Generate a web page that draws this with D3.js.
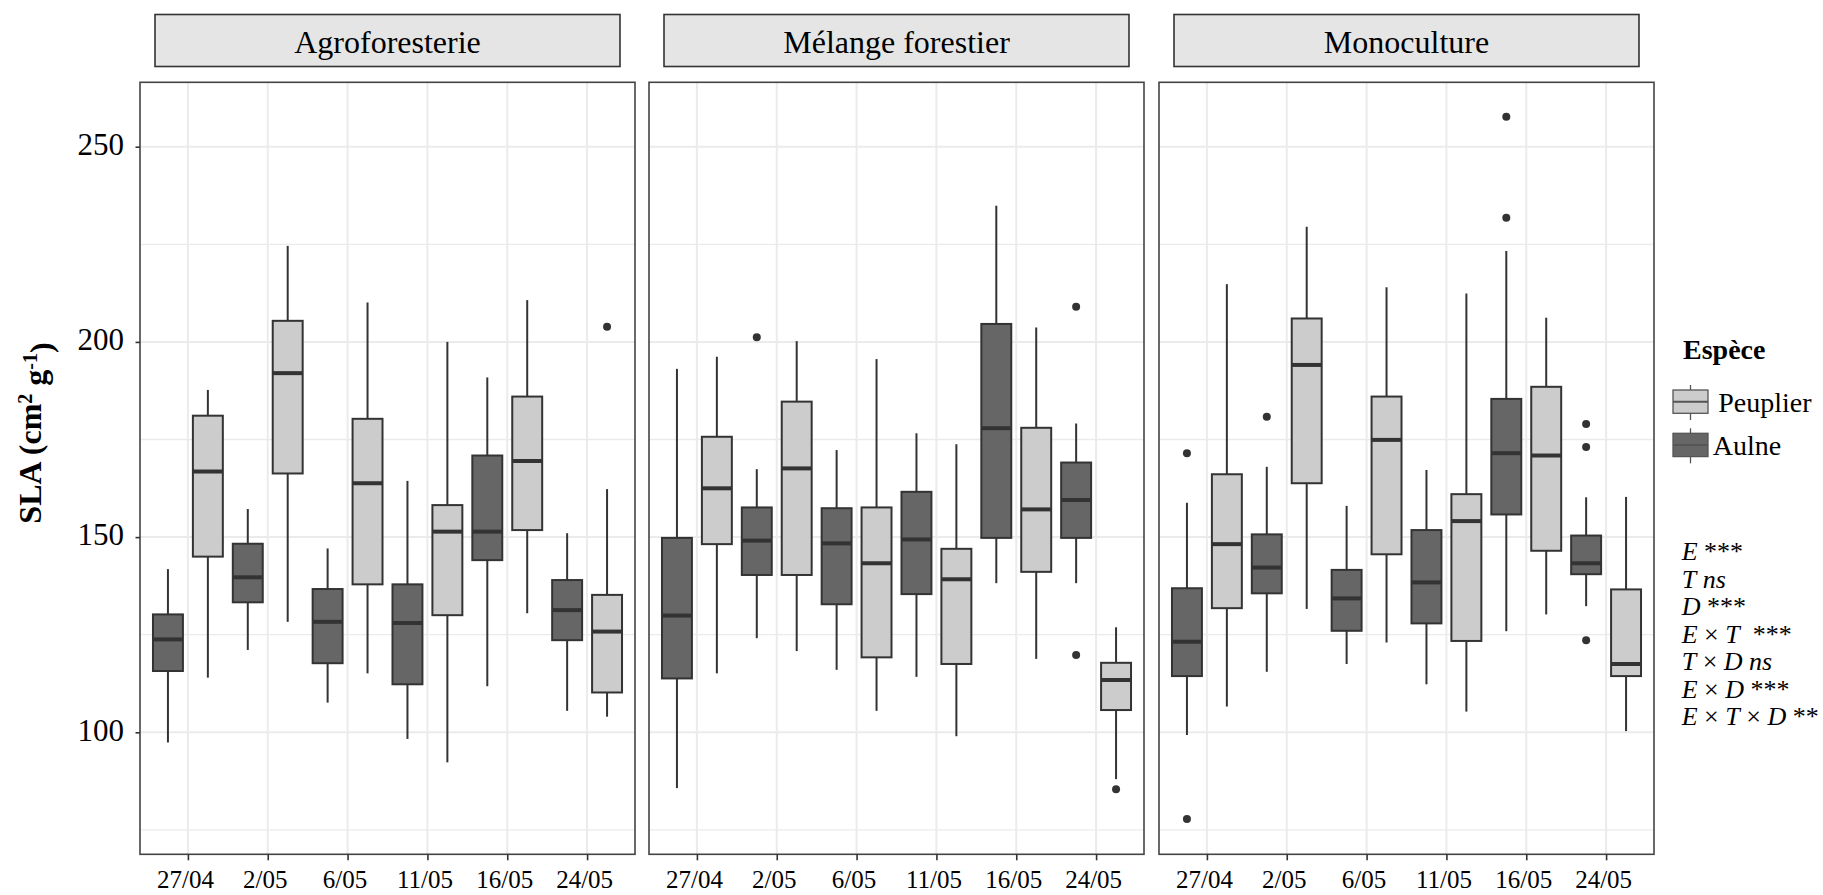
<!DOCTYPE html>
<html>
<head>
<meta charset="utf-8">
<script src="https://cdn.jsdelivr.net/npm/d3@7"></script>
<style>
  body { margin: 0; background: #fff; }
  svg { display: block; }
  text { font-family: "Liberation Serif", "Times New Roman", Times, serif; }
</style>
</head>
<body>
<svg id="chart" width="1823" height="895"></svg>
<script>
// ---------------- DATA ----------------
const panels = ["Agroforesterie", "Mélange forestier", "Monoculture"];
const dates = ["27/04", "2/05", "6/05", "11/05", "16/05", "24/05"];
const legendSpecies = ["Peuplier", "Aulne"];      // legend order
const dodgeSpecies = ["Aulne", "Peuplier"];       // left / right within each date
const yMajorTicks = [100, 150, 200, 250];
const yMinorTicks = [75, 125, 175, 225];
const yTitle = "SLA";
const legendTitle = "Espèce";
const statLines = ["E ***", "T ns", "D ***", "E × T  ***", "T × D ns", "E × D ***", "E × T × D **"];

// five-number summaries per date: [lower whisker, Q1, median, Q3, upper whisker]
const agroAulne = [
  [97.4, 115.7, 123.8, 130.2, 141.8],
  [121.1, 133.3, 139.7, 148.3, 157.2],
  [107.6, 117.7, 128.3, 136.7, 147.1],
  [98.3, 112.3, 128.0, 137.9, 164.4],
  [111.8, 144.1, 151.4, 170.9, 190.9],
  [105.5, 123.6, 131.3, 139.0, 151.0]
];
const agroPeuplier = [
  [114.0, 145.0, 166.8, 181.1, 187.7],
  [128.3, 166.3, 192.0, 205.4, 224.6],
  [115.1, 137.9, 163.8, 180.3, 210.1],
  [92.3, 130.0, 151.4, 158.2, 200.0],
  [130.5, 151.8, 169.5, 186.0, 210.7],
  [104.0, 110.2, 125.8, 135.2, 162.3]
];
const melAulne = [
  [85.7, 113.8, 129.9, 149.8, 193.1],
  [124.1, 140.3, 149.1, 157.6, 167.4],
  [116.0, 132.8, 148.4, 157.4, 172.3],
  [114.2, 135.4, 149.4, 161.6, 176.6],
  [138.2, 149.8, 177.9, 204.6, 234.9],
  [138.2, 149.8, 159.5, 169.1, 179.1]
];
const melPeuplier = [
  [115.1, 148.2, 162.5, 175.7, 196.2],
  [120.8, 140.3, 167.6, 184.7, 200.2],
  [105.5, 119.2, 143.3, 157.6, 195.6],
  [99.0, 117.5, 139.2, 147.0, 173.8],
  [118.8, 141.1, 157.1, 178.0, 203.7],
  [88.0, 105.7, 113.4, 117.8, 126.9]
];
const monoAulne = [
  [99.3, 114.4, 123.2, 136.9, 158.8],
  [115.5, 135.6, 142.2, 150.7, 168.0],
  [117.5, 126.0, 134.3, 141.6, 158.0],
  [112.3, 127.9, 138.4, 151.8, 167.2],
  [125.9, 155.8, 171.5, 185.4, 223.3],
  [132.3, 140.5, 143.3, 150.4, 160.2]
];
const monoPeuplier = [
  [106.6, 131.8, 148.2, 166.1, 214.8],
  [131.6, 163.8, 194.1, 206.0, 229.5],
  [123.0, 145.6, 174.9, 186.0, 214.0],
  [105.3, 123.4, 154.1, 161.0, 212.4],
  [130.2, 146.5, 170.9, 188.5, 206.2],
  [100.3, 114.4, 117.5, 136.6, 160.3]
];
// outliers per date
const agroAulneOut    = [[], [], [], [], [], []];
const agroPeuplierOut = [[], [], [], [], [], [203.9]];
const melAulneOut     = [[], [201.2], [], [], [], [209.0, 119.8]];
const melPeuplierOut  = [[], [], [], [], [], [85.4]];
const monoAulneOut    = [[171.5, 77.8], [180.8], [], [], [231.8, 257.7], [179.0, 173.1, 123.6]];
const monoPeuplierOut = [[], [], [], [], [], []];

const boxData = [
  { Aulne: agroAulne, Peuplier: agroPeuplier, AulneOut: agroAulneOut, PeuplierOut: agroPeuplierOut },
  { Aulne: melAulne,  Peuplier: melPeuplier,  AulneOut: melAulneOut,  PeuplierOut: melPeuplierOut },
  { Aulne: monoAulne, Peuplier: monoPeuplier, AulneOut: monoAulneOut, PeuplierOut: monoPeuplierOut }
];

// ---------------- LAYOUT / STYLE ----------------
const panelX = [140, 649, 1159];
const panelW = 495;
const panelTop = 82.3, panelBottom = 854.3;
const fillColor = d3.scaleOrdinal().domain(["Peuplier", "Aulne"]).range(["#cccccc", "#666666"]);
const ink = "#333333";
const gridCol = "#ebebeb";
const serif = "'Liberation Serif', 'Times New Roman', serif";

const svg = d3.select("#chart");

const y = d3.scaleLinear().domain([68.75, 266.5]).range([panelBottom, panelTop]);

panels.forEach((pname, pi) => {
  const x0 = panelX[pi];
  const x = d3.scalePoint().domain(dates).range([x0, x0 + panelW]).padding(0.6);
  const step = x.step();
  const dodge = d3.scaleBand().domain(dodgeSpecies).range([-0.5 * step, 0.5 * step]);
  const boxW = 0.375 * step;
  const g = svg.append("g");

  // grid
  g.selectAll("line.gmin").data(yMinorTicks).join("line")
    .attr("x1", x0).attr("x2", x0 + panelW)
    .attr("y1", d => y(d)).attr("y2", d => y(d))
    .attr("stroke", gridCol).attr("stroke-width", 1.3);
  g.selectAll("line.gmaj").data(yMajorTicks).join("line")
    .attr("x1", x0).attr("x2", x0 + panelW)
    .attr("y1", d => y(d)).attr("y2", d => y(d))
    .attr("stroke", gridCol).attr("stroke-width", 2);
  g.selectAll("line.gv").data(dates).join("line")
    .attr("x1", d => x(d)).attr("x2", d => x(d))
    .attr("y1", panelTop).attr("y2", panelBottom)
    .attr("stroke", gridCol).attr("stroke-width", 2);

  // boxes
  const items = [];
  dates.forEach((dt, di) => {
    dodgeSpecies.forEach(sp => {
      items.push({
        date: dt, sp: sp,
        s: boxData[pi][sp][di],
        out: boxData[pi][sp + "Out"][di],
        cx: x(dt) + dodge(sp) + dodge.bandwidth() / 2
      });
    });
  });

  const bg = g.selectAll("g.box").data(items).join("g");
  bg.append("line")
    .attr("x1", d => d.cx).attr("x2", d => d.cx)
    .attr("y1", d => y(d.s[4])).attr("y2", d => y(d.s[3]))
    .attr("stroke", ink).attr("stroke-width", 2);
  bg.append("line")
    .attr("x1", d => d.cx).attr("x2", d => d.cx)
    .attr("y1", d => y(d.s[1])).attr("y2", d => y(d.s[0]))
    .attr("stroke", ink).attr("stroke-width", 2);
  bg.append("rect")
    .attr("x", d => d.cx - boxW / 2).attr("width", boxW)
    .attr("y", d => y(d.s[3])).attr("height", d => y(d.s[1]) - y(d.s[3]))
    .attr("fill", d => fillColor(d.sp))
    .attr("stroke", ink).attr("stroke-width", 2);
  bg.append("line")
    .attr("x1", d => d.cx - boxW / 2).attr("x2", d => d.cx + boxW / 2)
    .attr("y1", d => y(d.s[2])).attr("y2", d => y(d.s[2]))
    .attr("stroke", ink).attr("stroke-width", 4);
  bg.selectAll("circle").data(d => d.out.map(v => ({ v, cx: d.cx }))).join("circle")
    .attr("cx", d => d.cx).attr("cy", d => y(d.v)).attr("r", 4)
    .attr("fill", ink);

  // panel border
  g.append("rect")
    .attr("x", x0).attr("y", panelTop)
    .attr("width", panelW).attr("height", panelBottom - panelTop)
    .attr("fill", "none").attr("stroke", "#444").attr("stroke-width", 1.6);

  // x axis
  const xa = g.append("g").attr("transform", `translate(0,${panelBottom})`)
    .call(d3.axisBottom(x).tickSize(6).tickPadding(10));
  xa.select(".domain").remove();
  xa.selectAll(".tick line").attr("stroke", ink).attr("stroke-width", 1.6);
  xa.selectAll(".tick text").attr("font-size", 25).attr("fill", "#000")
    .attr("font-family", serif).attr("dx", -3);

  // y axis (first panel only)
  if (pi === 0) {
    const ya = g.append("g").attr("transform", `translate(${x0},0)`)
      .call(d3.axisLeft(y).tickValues(yMajorTicks).tickSize(4.5).tickPadding(11.5));
    ya.select(".domain").remove();
    ya.selectAll(".tick line").attr("stroke", ink).attr("stroke-width", 1.6);
    ya.selectAll(".tick text").attr("font-size", 31).attr("fill", "#000").attr("dy", "0.25em")
      .attr("font-family", serif);
  }

  // strip
  g.append("rect")
    .attr("x", x0 + 15).attr("y", 14.5)
    .attr("width", panelW - 30).attr("height", 52)
    .attr("fill", "#e5e5e5").attr("stroke", ink).attr("stroke-width", 1.6);
  g.append("text")
    .attr("x", x0 + panelW / 2).attr("y", 53)
    .attr("text-anchor", "middle").attr("font-size", 32).attr("fill", "#000")
    .attr("font-family", serif)
    .text(pname);
});

// y title
const yt = svg.append("text")
  .attr("transform", "translate(41,433) rotate(-90)")
  .attr("text-anchor", "middle").attr("font-family", serif)
  .attr("font-size", 32).attr("font-weight", "bold").attr("fill", "#000");
yt.append("tspan").text(yTitle + " (cm");
yt.append("tspan").attr("font-size", 20).attr("dy", "-0.45em").text("2");
yt.append("tspan").attr("dy", "0.45em").text(" g");
yt.append("tspan").attr("font-size", 20).attr("dy", "-0.45em").text("-1");
yt.append("tspan").attr("dy", "0.45em").text(")");

// legend
const lg = svg.append("g");
lg.append("text").attr("x", 1683).attr("y", 359).attr("font-family", serif)
  .attr("font-size", 28).attr("font-weight", "bold").attr("fill", "#000")
  .text(legendTitle);
const keyY = d3.scalePoint().domain(legendSpecies).range([390, 433.3]);
const keys = lg.selectAll("g.key").data(legendSpecies).join("g");
keys.append("line")
  .attr("x1", 1690.5).attr("x2", 1690.5)
  .attr("y1", d => keyY(d) - 5).attr("y2", d => keyY(d) + 30)
  .attr("stroke", "#555").attr("stroke-width", 1.3);
keys.append("rect")
  .attr("x", 1673).attr("width", 35)
  .attr("y", d => keyY(d)).attr("height", 23.3)
  .attr("fill", d => fillColor(d)).attr("stroke", "#555").attr("stroke-width", 1.3);
keys.append("line")
  .attr("x1", 1673).attr("x2", 1708)
  .attr("y1", d => keyY(d) + 11.65).attr("y2", d => keyY(d) + 11.65)
  .attr("stroke", "#555").attr("stroke-width", 2);
keys.append("text")
  .attr("x", d => d === "Peuplier" ? 1718.3 : 1712.7)
  .attr("y", d => keyY(d) + 21.5).attr("font-family", serif)
  .attr("font-size", 28).attr("fill", "#000")
  .text(d => d);

// statistics annotation
const st = svg.append("g");
statLines.forEach((line, i) => {
  const t = st.append("text")
    .attr("x", 1681.7).attr("y", 560 + i * 27.5)
    .attr("font-size", 26).attr("fill", "#000").attr("font-family", serif)
    .style("white-space", "pre");
  const parts = line.split(/(\s+)/);
  parts.forEach(p => {
    if (p.length === 0) return;
    const italic = /^[A-Za-z]+$/.test(p);
    t.append("tspan").attr("font-style", italic ? "italic" : "normal").text(p);
  });
});
</script>
</body>
</html>
